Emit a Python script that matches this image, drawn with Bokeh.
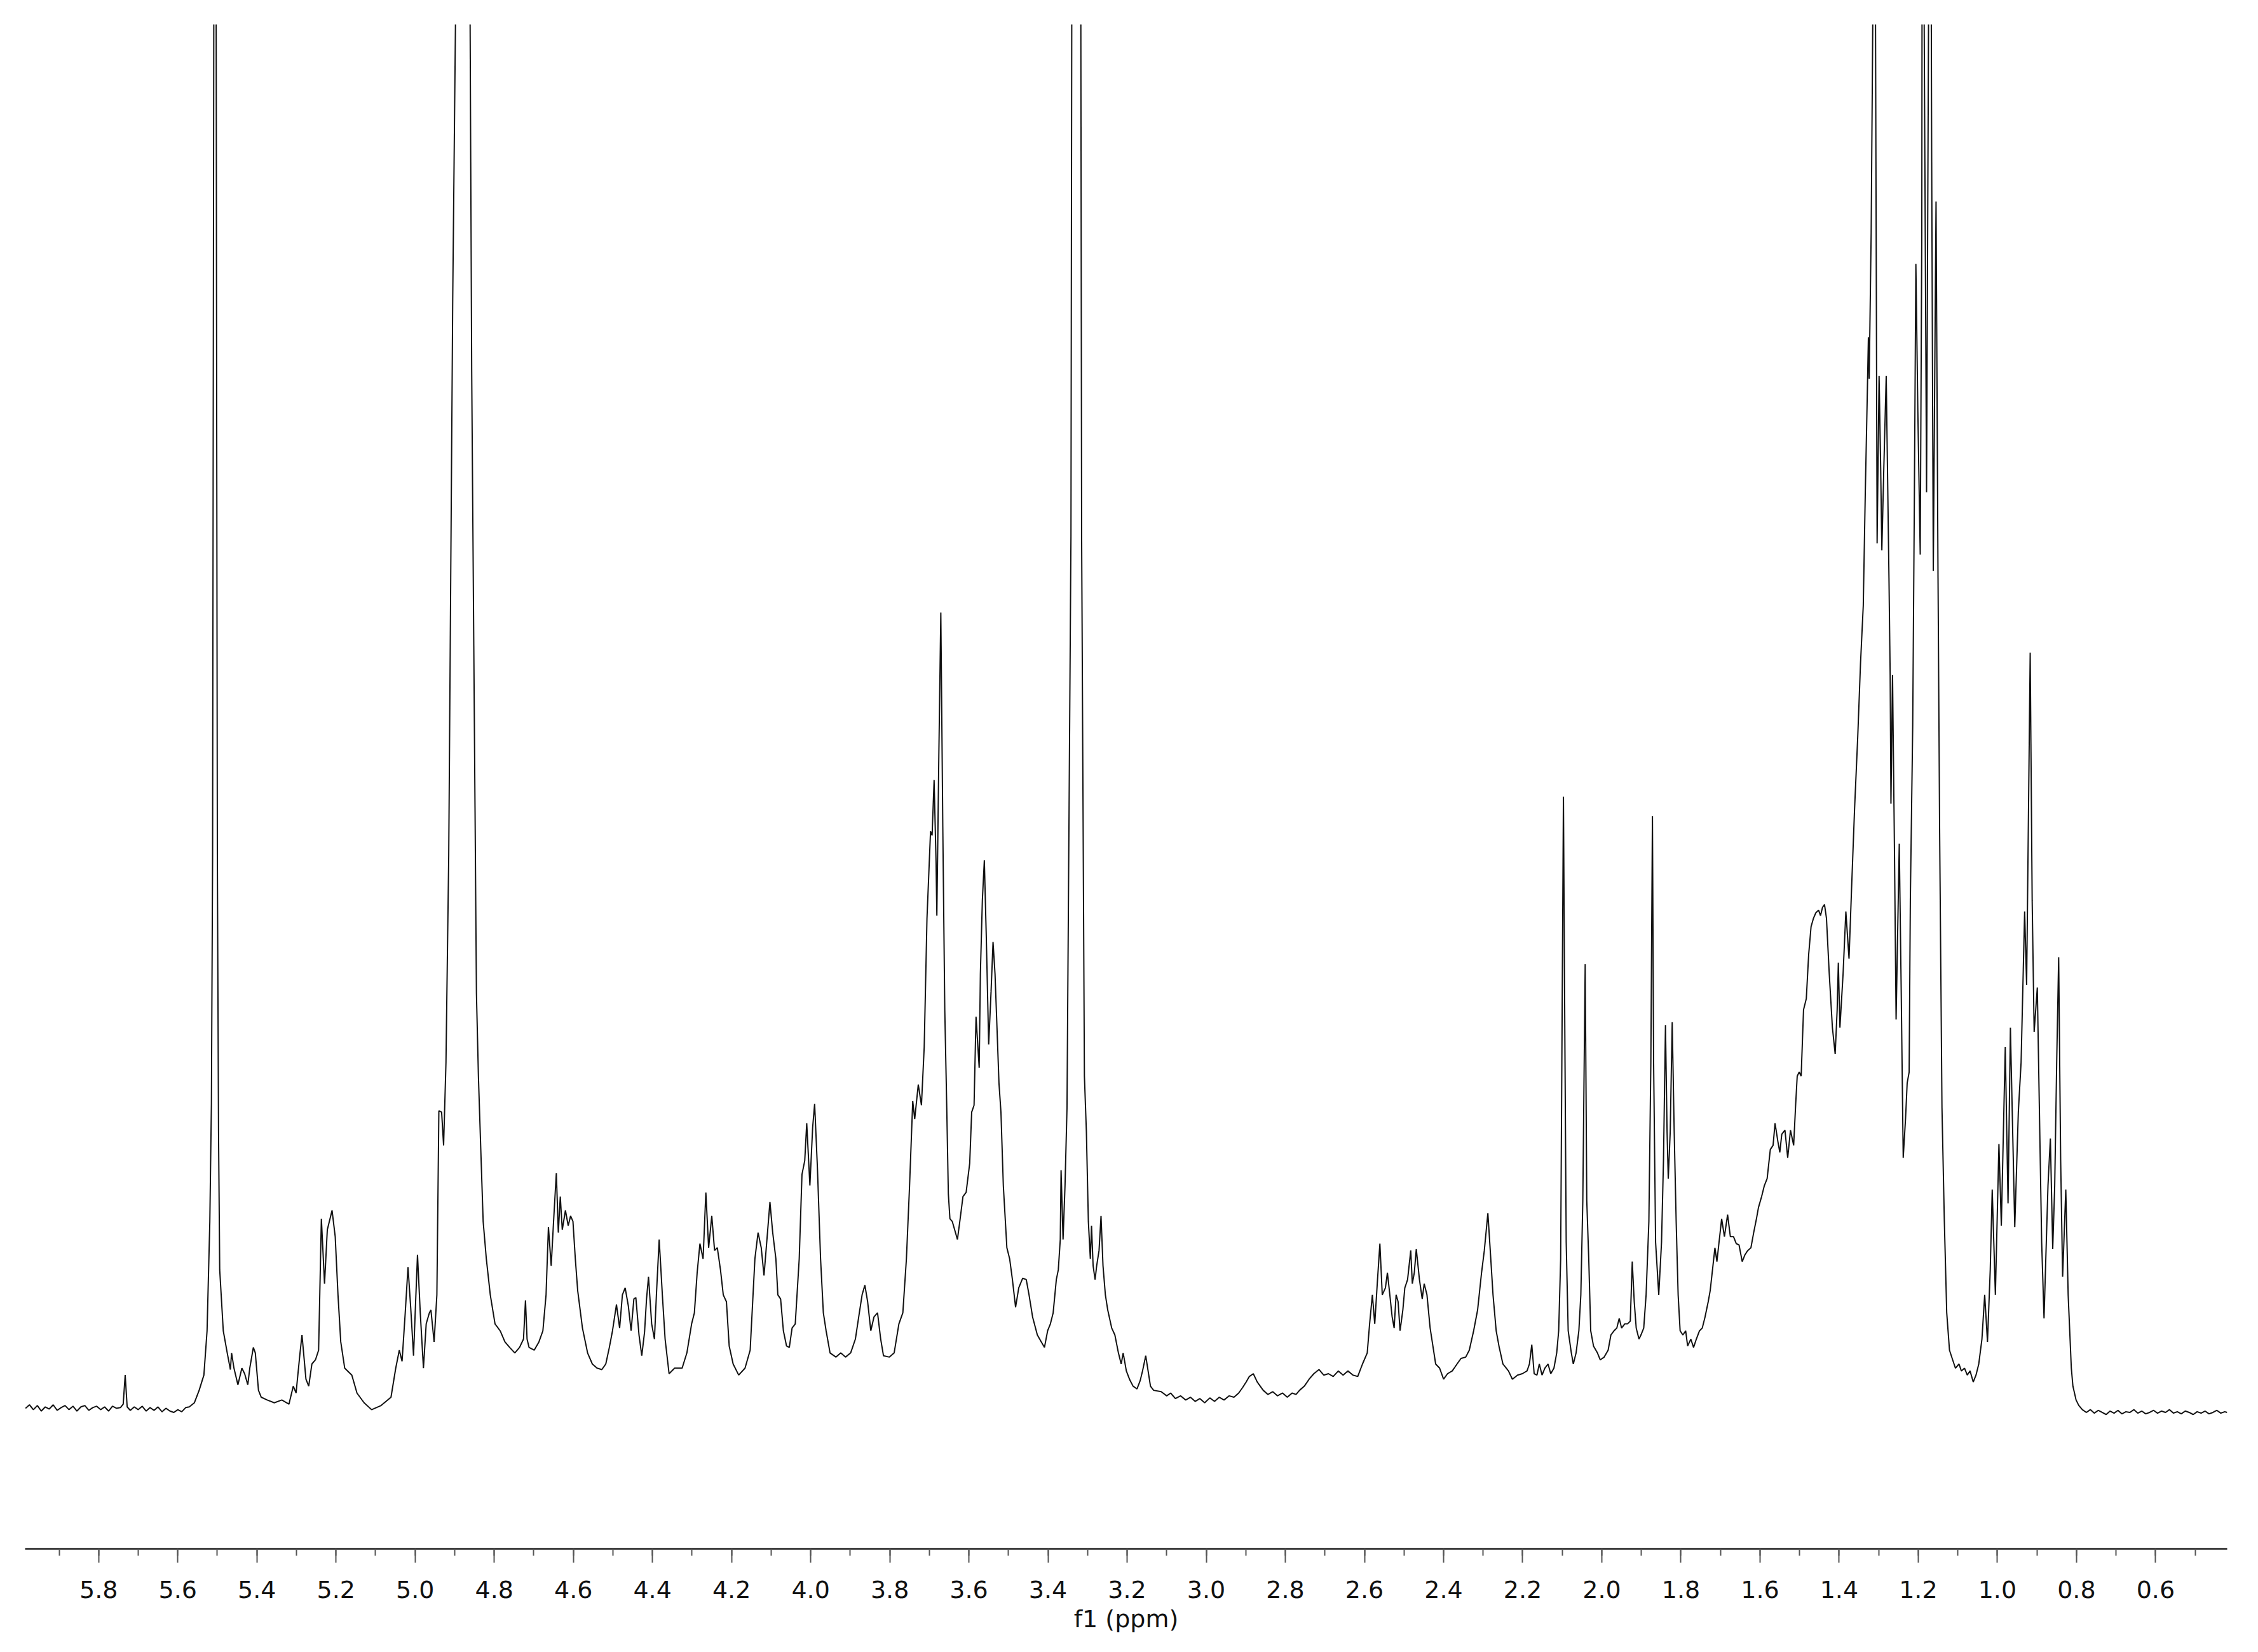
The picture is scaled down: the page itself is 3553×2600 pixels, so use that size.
from bokeh.plotting import figure
from bokeh.models import Range1d, SingleIntervalTicker, NumeralTickFormatter, ColumnDataSource
from bokeh.embed import file_html
from bokeh.resources import INLINE

# ---- traced 1H NMR spectrum (chemical shift in ppm, relative intensity; 100 = top of plot) ----
ppm_a = [5.985, 5.975, 5.965, 5.955, 5.945, 5.935, 5.925, 5.915, 5.905, 5.895,
         5.885, 5.875, 5.865, 5.855, 5.845, 5.835, 5.825, 5.815, 5.805, 5.795,
         5.785, 5.775, 5.765, 5.755, 5.745, 5.738, 5.733, 5.728, 5.72, 5.71,
         5.70, 5.69, 5.68, 5.67, 5.66, 5.65, 5.64, 5.63, 5.62, 5.61,
         5.60, 5.59, 5.58, 5.571, 5.558, 5.546, 5.534, 5.526, 5.519, 5.515,
         5.512, 5.509, 5.506, 5.503, 5.500, 5.497, 5.494, 5.485, 5.475, 5.467]
int_a = [0.0, 0.25, -0.1, 0.2, -0.2, 0.1, -0.05, 0.25, -0.15, 0.05,
         0.2, -0.1, 0.15, -0.2, 0.1, 0.2, -0.15, 0.05, 0.15, -0.1,
         0.1, -0.2, 0.15, 0.0, 0.05, 0.3, 2.4, 0.1, -0.15, 0.1,
         -0.1, 0.15, -0.2, 0.05, -0.15, 0.1, -0.25, 0.0, -0.2, -0.3,
         -0.1, -0.25, 0.05, 0.1, 0.4, 1.3, 2.4, 5.6, 13.5, 22,
         40, 100, 150, 100, 40, 20, 10, 5.6, 4.0, 2.8]

ppm_b = [5.464, 5.458, 5.448, 5.438, 5.431, 5.423, 5.418, 5.409, 5.404, 5.396,
         5.389, 5.374, 5.356, 5.337, 5.319, 5.308, 5.301, 5.291, 5.286, 5.276,
         5.269, 5.261, 5.252, 5.244, 5.237, 5.229, 5.222, 5.210, 5.202, 5.195,
         5.188, 5.178, 5.160, 5.147, 5.129, 5.110, 5.086, 5.061, 5.049, 5.040,
         5.033, 5.025, 5.018, 5.011, 5.004, 4.999, 4.994, 4.987, 4.979, 4.972,
         4.964, 4.960, 4.952, 4.945, 4.940, 4.933, 4.928, 4.922, 4.915, 4.910,
         4.905, 4.898, 4.885, 4.875, 4.861, 4.857, 4.853, 4.845, 4.840, 4.834]
int_b = [4.0, 2.9, 1.7, 2.9, 2.5, 1.7, 2.9, 4.4, 4.0, 1.3,
         0.8, 0.6, 0.4, 0.6, 0.3, 1.6, 1.1, 4.0, 5.3, 2.1,
         1.6, 3.2, 3.5, 4.2, 13.7, 9.0, 12.9, 14.3, 12.4, 8.2,
         4.8, 2.9, 2.4, 1.1, 0.4, -0.1, 0.2, 0.8, 2.9, 4.2,
         3.4, 6.9, 10.2, 7.2, 3.8, 7.5, 11.1, 6.9, 2.9, 6.1,
         6.9, 7.1, 4.8, 8.2, 21.5, 21.4, 19.0, 25, 40, 60,
         80, 100, 135, 135, 100, 75, 60, 30, 24, 18.7]

ppm_c = [4.828, 4.820, 4.810, 4.798, 4.785, 4.773, 4.761, 4.748, 4.736, 4.726,
         4.721, 4.717, 4.712, 4.699, 4.687, 4.677, 4.669, 4.663, 4.656, 4.650,
         4.643, 4.638, 4.633, 4.628, 4.620, 4.613, 4.607, 4.601, 4.595, 4.589,
         4.577, 4.564, 4.552, 4.540, 4.528, 4.518, 4.509, 4.501, 4.491, 4.483,
         4.476, 4.469, 4.461, 4.454, 4.447, 4.442, 4.434, 4.427, 4.420, 4.415,
         4.410, 4.402, 4.395, 4.390, 4.383, 4.375, 4.368, 4.358, 4.344, 4.325,
         4.313, 4.301, 4.294, 4.287, 4.280, 4.272, 4.265, 4.258, 4.250, 4.243,
         4.236, 4.228, 4.221, 4.213, 4.206, 4.196, 4.182, 4.166, 4.153, 4.141]
int_c = [13.5, 10.8, 8.2, 6.1, 5.6, 4.8, 4.4, 4.0, 4.4, 5.0,
         7.8, 5.0, 4.4, 4.2, 4.8, 5.6, 8.2, 13.1, 10.3, 13.5,
         17.0, 12.7, 15.3, 12.9, 14.3, 13.2, 13.9, 13.5, 10.8, 8.5,
         5.8, 4.0, 3.2, 2.9, 2.8, 3.2, 4.4, 5.6, 7.5, 5.8,
         8.2, 8.7, 7.4, 5.6, 7.9, 8.0, 5.3, 3.8, 5.5, 7.9,
         9.5, 6.1, 5.0, 8.2, 12.2, 8.2, 5.0, 2.5, 2.9, 2.9,
         4.0, 6.1, 6.9, 9.8, 11.9, 10.8, 15.6, 11.6, 13.9, 11.4,
         11.6, 10.0, 8.2, 7.7, 4.5, 3.2, 2.4, 2.9, 4.2, 10.8]

ppm_d = [4.133, 4.125, 4.118, 4.110, 4.103, 4.096, 4.088, 4.083, 4.076, 4.069,
         4.061, 4.054, 4.047, 4.039, 4.029, 4.022, 4.015, 4.010, 4.002, 3.995,
         3.990, 3.983, 3.975, 3.968, 3.961, 3.951, 3.936, 3.924, 3.912, 3.899,
         3.887, 3.877, 3.870, 3.863, 3.856, 3.848, 3.840, 3.831, 3.823, 3.816,
         3.801, 3.789, 3.777, 3.767, 3.758, 3.750, 3.742, 3.737, 3.728, 3.720,
         3.713, 3.706, 3.697, 3.693, 3.688, 3.683, 3.681, 3.676, 3.671, 3.666,
         3.661, 3.656, 3.652, 3.648, 3.642, 3.636, 3.629, 3.623, 3.615, 3.607]
int_d = [12.7, 11.6, 9.6, 12.4, 14.9, 12.7, 10.8, 8.2, 7.9, 5.6,
         4.5, 4.4, 5.8, 6.1, 10.8, 16.9, 17.9, 20.6, 16.1, 20.3,
         22.0, 17.4, 10.8, 6.9, 5.6, 4.0, 3.7, 4.0, 3.7, 4.0,
         5.0, 6.9, 8.2, 8.9, 7.7, 5.6, 6.6, 6.9, 5.0, 3.8,
         3.7, 4.0, 6.1, 6.9, 10.8, 16.1, 22.2, 20.9, 23.4, 21.9,
         26.1, 35.4, 41.7, 41.4, 45.4, 39.4, 35.6, 47.2, 57.5, 42.0,
         28.8, 21.7, 15.5, 13.7, 13.5, 12.9, 12.2, 13.5, 15.3, 15.6]

ppm_e = [3.598, 3.593, 3.587, 3.582, 3.574, 3.571, 3.566, 3.561, 3.556, 3.550,
         3.544, 3.539, 3.534, 3.529, 3.524, 3.519, 3.513, 3.504, 3.497, 3.490,
         3.482, 3.474, 3.464, 3.455, 3.448, 3.439, 3.427, 3.417, 3.409, 3.401,
         3.394, 3.387, 3.379, 3.374, 3.369, 3.367, 3.362, 3.357, 3.352, 3.342,
         3.340, 3.329, 3.317, 3.315, 3.308, 3.303, 3.298, 3.293, 3.290, 3.286,
         3.281, 3.277, 3.271, 3.266, 3.261, 3.255, 3.249, 3.239, 3.231, 3.222,
         3.215, 3.210, 3.202, 3.194, 3.185, 3.175, 3.167, 3.161, 3.153, 3.147]
int_e = [17.7, 21.4, 21.9, 28.3, 24.6, 31.4, 36.7, 39.6, 34.0, 26.3,
         30.1, 33.7, 31.4, 27.5, 23.5, 21.4, 16.1, 11.6, 10.8, 9.3,
         7.3, 8.7, 9.4, 9.3, 8.2, 6.6, 5.3, 4.8, 4.4, 5.6,
         6.1, 6.9, 9.3, 10.0, 12.2, 17.2, 12.2, 16.1, 21.7, 63,
         100, 140, 100, 63, 24, 20, 13.5, 10.8, 13.2, 10.3,
         9.3, 10.3, 11.4, 13.9, 10.3, 8.2, 7.1, 5.8, 5.3, 4.0,
         3.2, 4.0, 2.7, 2.1, 1.6, 1.4, 2.0, 2.7, 3.8, 2.7]

ppm_f = [3.141, 3.133, 3.114, 3.100, 3.090, 3.078, 3.065, 3.052, 3.040, 3.028,
         3.016, 3.004, 2.991, 2.979, 2.967, 2.955, 2.942, 2.930, 2.918, 2.908,
         2.899, 2.891, 2.881, 2.871, 2.856, 2.844, 2.832, 2.820, 2.807, 2.795,
         2.783, 2.773, 2.764, 2.752, 2.740, 2.728, 2.715, 2.703, 2.691, 2.679,
         2.666, 2.654, 2.642, 2.629, 2.617, 2.605, 2.593, 2.587, 2.580, 2.574,
         2.567, 2.561, 2.555, 2.547, 2.542, 2.537, 2.530, 2.525, 2.520, 2.515,
         2.510, 2.503, 2.498, 2.491, 2.483, 2.479, 2.474, 2.469, 2.461, 2.454,
         2.449, 2.442, 2.434, 2.427, 2.420, 2.410, 2.400, 2.390, 2.378, 2.366,
         2.356, 2.344, 2.335, 2.324, 2.314, 2.304, 2.297, 2.288, 2.282, 2.275,
         2.267, 2.260, 2.250, 2.236, 2.226]
int_f = [1.6, 1.3, 1.2, 0.9, 1.1, 0.7, 0.9, 0.6, 0.8, 0.5,
         0.7, 0.4, 0.75, 0.5, 0.8, 0.6, 0.9, 0.8, 1.1, 1.5,
         1.9, 2.3, 2.5, 1.9, 1.3, 1.0, 1.2, 0.9, 1.1, 0.8,
         1.1, 1.0, 1.3, 1.6, 2.1, 2.5, 2.8, 2.4, 2.5, 2.3,
         2.7, 2.4, 2.7, 2.4, 2.3, 3.2, 4.0, 6.1, 8.2, 6.1,
         9.3, 11.9, 8.2, 8.7, 9.8, 8.5, 6.6, 5.8, 8.2, 7.7,
         5.6, 7.1, 8.7, 9.3, 11.4, 9.0, 9.8, 11.5, 9.3, 7.9,
         9.0, 8.2, 5.8, 4.5, 3.2, 2.9, 2.1, 2.5, 2.7, 3.2,
         3.6, 3.7, 4.2, 5.6, 7.1, 9.8, 11.4, 14.1, 11.4, 8.2,
         5.6, 4.5, 3.2, 2.7, 2.1]

ppm_g = [2.213, 2.201, 2.189, 2.183, 2.177, 2.171, 2.164, 2.158, 2.151, 2.144,
         2.136, 2.129, 2.121, 2.114, 2.109, 2.104, 2.101, 2.097, 2.093, 2.090,
         2.085, 2.077, 2.072, 2.065, 2.058, 2.053, 2.048, 2.042, 2.038, 2.033,
         2.028, 2.021, 2.011, 2.004, 1.994, 1.984, 1.977, 1.969, 1.962, 1.956,
         1.950, 1.942, 1.935, 1.928, 1.923, 1.918, 1.913, 1.906, 1.901, 1.894,
         1.888, 1.881, 1.876, 1.872, 1.869, 1.864, 1.856, 1.849, 1.844, 1.839,
         1.835, 1.832, 1.827, 1.822, 1.817, 1.812, 1.807, 1.802, 1.795, 1.788,
         1.783, 1.775, 1.768, 1.761, 1.753, 1.746, 1.739, 1.731, 1.726, 1.719,
         1.714, 1.709, 1.704, 1.697, 1.690, 1.682, 1.675, 1.667, 1.660, 1.653,
         1.645, 1.638, 1.631, 1.623, 1.616, 1.609, 1.604, 1.596, 1.589, 1.582,
         1.574, 1.567, 1.562, 1.555, 1.550, 1.545, 1.537, 1.530, 1.523, 1.515,
         1.510, 1.506]
int_g = [2.4, 2.5, 2.7, 3.2, 4.6, 2.5, 2.4, 3.2, 2.4, 2.9,
         3.2, 2.5, 2.9, 4.0, 5.6, 10.8, 25, 44.2, 25, 12,
         5.6, 4.0, 3.2, 4.0, 5.6, 8.2, 15, 32.1, 15, 10.8,
         5.6, 4.5, 4.0, 3.5, 3.7, 4.2, 5.3, 5.6, 5.8, 6.5,
         5.8, 6.1, 6.1, 6.3, 10.6, 7.7, 5.8, 5.0, 5.3, 5.8,
         8.2, 13.5, 25, 42.8, 25, 12, 8.2, 12, 18, 27.7,
         20, 16.6, 20, 27.9, 20, 13.5, 8.2, 5.6, 5.3, 5.6,
         4.5, 5.0, 4.4, 5.0, 5.6, 5.8, 6.6, 7.7, 8.5, 10.3,
         11.6, 10.6, 11.9, 13.7, 12.4, 14.0, 12.4, 12.4, 11.9, 11.8,
         10.6, 11.1, 11.4, 11.6, 12.7, 13.7, 14.5, 15.3, 16.1, 16.6,
         18.7, 19.0, 20.6, 19.3, 18.5, 19.8, 20.1, 18.1, 20.1, 19.0,
         21.9, 24.0]

ppm_h = [1.501, 1.496, 1.490, 1.483, 1.477, 1.471, 1.465, 1.459, 1.452, 1.447,
         1.442, 1.437, 1.432, 1.425, 1.417, 1.410, 1.405, 1.402, 1.398, 1.390,
         1.383, 1.375, 1.368, 1.361, 1.353, 1.346, 1.339, 1.334, 1.329, 1.326,
         1.324, 1.319, 1.315, 1.312, 1.308, 1.304, 1.299, 1.295, 1.292, 1.287,
         1.281, 1.274, 1.271, 1.269, 1.265, 1.260, 1.256, 1.248, 1.243, 1.238,
         1.232, 1.228, 1.223, 1.220, 1.214, 1.210, 1.206, 1.201, 1.195, 1.191,
         1.189, 1.185, 1.179, 1.174, 1.171, 1.166, 1.162, 1.155, 1.150, 1.146,
         1.140]
int_h = [24.3, 24.0, 28.8, 29.6, 32.8, 34.8, 35.4, 35.8, 36.0, 35.6,
         36.2, 36.4, 35.4, 31.4, 27.5, 25.6, 28.8, 32.2, 27.5, 31.4,
         35.9, 32.5, 38.0, 43.3, 48.5, 53.8, 58, 66, 73, 77.4,
         74.4, 85, 100, 140, 100, 62.5, 74.6, 68, 62, 68,
         74.6, 60, 53, 43.7, 53, 40, 28.1, 40.8, 30, 18.1,
         21, 23.5, 24.3, 36.7, 49.3, 65, 82.7, 72, 61.7, 85,
         140, 100, 66.2, 100, 140, 90, 60.5, 87.2, 60, 42,
         21.7]

ppm_i = [1.134, 1.128, 1.121, 1.113, 1.106, 1.097, 1.091, 1.083, 1.076, 1.069,
         1.061, 1.054, 1.047, 1.039, 1.032, 1.025, 1.018, 1.013, 1.005, 0.996,
         0.990, 0.980, 0.973, 0.967, 0.956, 0.947, 0.940, 0.931, 0.926, 0.917,
         0.912, 0.907, 0.899, 0.894, 0.888, 0.882, 0.872, 0.866, 0.860, 0.855,
         0.850, 0.845, 0.840, 0.835, 0.827, 0.821, 0.813, 0.809, 0.801, 0.794,
         0.785, 0.775, 0.765, 0.755, 0.745, 0.735, 0.725, 0.715, 0.705, 0.695,
         0.685, 0.675, 0.665, 0.655, 0.645, 0.635, 0.625, 0.615, 0.605, 0.595,
         0.585, 0.575, 0.565, 0.555, 0.545, 0.535, 0.525, 0.515, 0.505, 0.495,
         0.485, 0.475, 0.465, 0.455, 0.445, 0.435, 0.425, 0.419]
int_i = [13.5, 6.9, 4.2, 3.5, 2.9, 3.2, 2.7, 2.9, 2.4, 2.7,
         1.9, 2.4, 3.2, 5.0, 8.2, 4.8, 10, 15.8, 8.2, 19.1,
         13.2, 26.1, 14.8, 27.5, 13.1, 21.4, 25, 35.9, 30.6, 54.6,
         36.7, 27.2, 30.4, 22, 12, 6.5, 16.1, 19.5, 11.5, 16.1,
         25, 32.6, 18, 9.5, 15.8, 8.2, 2.9, 1.6, 0.6, 0.2,
         -0.1, -0.3, -0.1, -0.35, -0.15, -0.3, -0.45, -0.2, -0.35, -0.15,
         -0.4, -0.25, -0.3, -0.1, -0.35, -0.2, -0.4, -0.3, -0.15, -0.35,
         -0.2, -0.3, -0.1, -0.35, -0.25, -0.4, -0.2, -0.3, -0.45, -0.25,
         -0.35, -0.2, -0.4, -0.3, -0.15, -0.35, -0.25, -0.3]

axis_title = "f1 (ppm)"
x_start, x_end = 5.986, 0.419      # reversed chemical-shift axis
y_bottom, y_top = -10.15, 100.0
tick_interval = 0.2

segments = [(ppm_a, int_a), (ppm_b, int_b), (ppm_c, int_c), (ppm_d, int_d),
            (ppm_e, int_e), (ppm_f, int_f), (ppm_g, int_g), (ppm_h, int_h),
            (ppm_i, int_i)]
shift, inten = [], []
for xs, ys in segments:
    assert len(xs) == len(ys), (len(xs), len(ys))
    shift.extend(xs)
    inten.extend(ys)

src = ColumnDataSource(data=dict(ppm=shift, intensity=inten))

p = figure(width=3537, height=2587,
           x_range=Range1d(x_start, x_end), y_range=Range1d(y_bottom, y_top),
           output_backend="svg", toolbar_location=None,
           y_axis_location=None,
           min_border_left=39, min_border_right=33,
           min_border_top=38, min_border_bottom=150)
p.outline_line_color = None
p.grid.visible = False
p.background_fill_color = "white"
p.border_fill_color = "white"

p.line("ppm", "intensity", source=src, line_color="#111111", line_width=2)

ax = p.xaxis[0]
ax.ticker = SingleIntervalTicker(interval=tick_interval, num_minor_ticks=2)
ax.formatter = NumeralTickFormatter(format="0.0")
ax.axis_line_color = "#3c3c3c"
ax.axis_line_width = 3
ax.major_tick_line_color = "#555555"
ax.major_tick_line_width = 2
ax.major_tick_in = 0
ax.major_tick_out = 22
ax.minor_tick_line_color = "#555555"
ax.minor_tick_line_width = 2
ax.minor_tick_in = 0
ax.minor_tick_out = 11
ax.major_label_text_font = "DejaVu Sans"
ax.major_label_text_font_size = "38px"
ax.major_label_text_color = "#111111"
ax.major_label_standoff = 28
ax.axis_label = axis_title
ax.axis_label_text_font = "DejaVu Sans"
ax.axis_label_text_font_size = "38px"
ax.axis_label_text_font_style = "normal"
ax.axis_label_text_color = "#111111"
ax.axis_label_standoff = 8

open("out.html", "w").write(file_html(p, INLINE))
